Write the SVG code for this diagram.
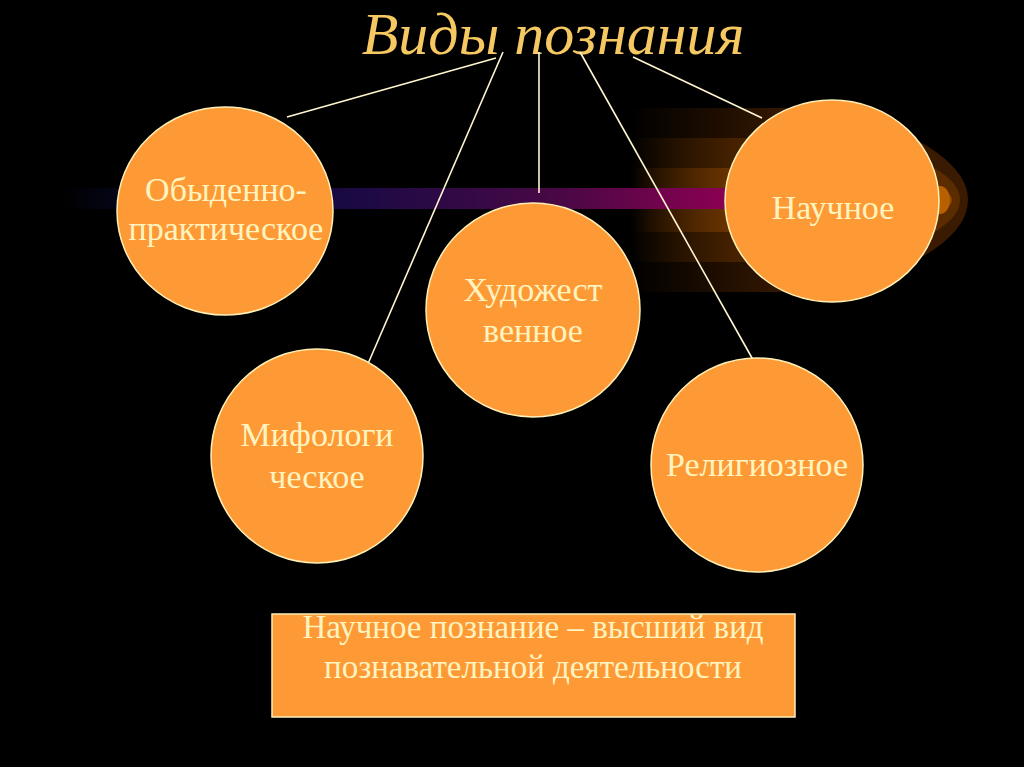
<svg xmlns="http://www.w3.org/2000/svg" width="1024" height="767" viewBox="0 0 1024 767">
<defs>
<linearGradient id="bar" x1="60" y1="0" x2="730" y2="0" gradientUnits="userSpaceOnUse">
<stop offset="0" stop-color="#000000"/>
<stop offset="0.1" stop-color="#05061a"/>
<stop offset="0.45" stop-color="#1c0a45"/>
<stop offset="0.75" stop-color="#4a0845"/>
<stop offset="1" stop-color="#8c0052"/>
</linearGradient>
<linearGradient id="g1" x1="630" y1="0" x2="800" y2="0" gradientUnits="userSpaceOnUse">
<stop offset="0" stop-color="#3a1a00" stop-opacity="0"/>
<stop offset="1" stop-color="#3a1a00"/>
</linearGradient>
<linearGradient id="g2" x1="630" y1="0" x2="800" y2="0" gradientUnits="userSpaceOnUse">
<stop offset="0" stop-color="#5a2c00" stop-opacity="0"/>
<stop offset="1" stop-color="#5a2c00"/>
</linearGradient>
<linearGradient id="g3" x1="630" y1="0" x2="800" y2="0" gradientUnits="userSpaceOnUse">
<stop offset="0" stop-color="#7a3c00" stop-opacity="0"/>
<stop offset="1" stop-color="#8a4600"/>
</linearGradient>
<style>
.node{fill:#fd9a35;stroke:#fff0b8;stroke-width:1.5}
.lbl{font-family:"Liberation Serif","Times New Roman",serif;font-size:34px;fill:#fff4c0;text-anchor:middle}
.box{font-size:33px}
.con{stroke:#fff6d0;stroke-width:1.6;fill:none}
</style>
</defs>
<rect width="1024" height="767" fill="#000"/>
<g id="glow">
<path d="M630,108 L840,108 Q968,150 968,200 Q968,250 840,292 L630,292 Z" fill="url(#g1)"/>
<path d="M630,138 L850,138 Q960,165 960,200 Q960,235 850,262 L630,262 Z" fill="url(#g2)"/>
<path d="M630,168 L860,168 Q952,183 952,200 Q952,217 860,232 L630,232 Z" fill="url(#g3)"/>
<ellipse cx="940" cy="200" rx="10" ry="14" fill="#b86000"/>
<rect x="60" y="188" width="680" height="21" fill="url(#bar)"/>
</g>
<text x="553" y="54" font-family="Liberation Serif,'Times New Roman',serif" font-style="italic" font-size="60" fill="#f6c862" text-anchor="middle">Виды познания</text>
<g id="connectors">
<line class="con" x1="496" y1="58" x2="287" y2="117"/>
<line class="con" x1="503" y1="52" x2="367" y2="366"/>
<line class="con" x1="539" y1="52" x2="539" y2="193"/>
<line class="con" x1="580" y1="52" x2="761" y2="374"/>
<line class="con" x1="633" y1="57" x2="762" y2="118"/>
</g>
<g id="obydenno">
<ellipse class="node" cx="225" cy="211" rx="108" ry="104"/>
<text class="lbl" x="226" y="201">Обыденно-</text>
<text class="lbl" x="226" y="240">практическое</text>
</g>
<g id="nauchnoe">
<ellipse class="node" cx="832" cy="201" rx="107" ry="101"/>
<text class="lbl" x="833" y="219">Научное</text>
</g>
<g id="khudozh">
<ellipse class="node" cx="533" cy="310" rx="107" ry="107"/>
<text class="lbl" x="533" y="301">Художест</text>
<text class="lbl" x="533" y="342">венное</text>
</g>
<g id="mifolog">
<ellipse class="node" cx="317" cy="456" rx="106" ry="107"/>
<text class="lbl" x="317" y="446">Мифологи</text>
<text class="lbl" x="317" y="488">ческое</text>
</g>
<g id="religioz">
<ellipse class="node" cx="757" cy="465" rx="106" ry="107"/>
<text class="lbl" x="757" y="476">Религиозное</text>
</g>
<g id="note">
<rect x="272" y="614" width="523" height="103" fill="#fd9a35" stroke="#fff0b8" stroke-width="1.5"/>
<text class="lbl box" x="533" y="638">Научное познание – высший вид</text>
<text class="lbl box" x="533" y="678">познавательной деятельности</text>
</g>
</svg>
